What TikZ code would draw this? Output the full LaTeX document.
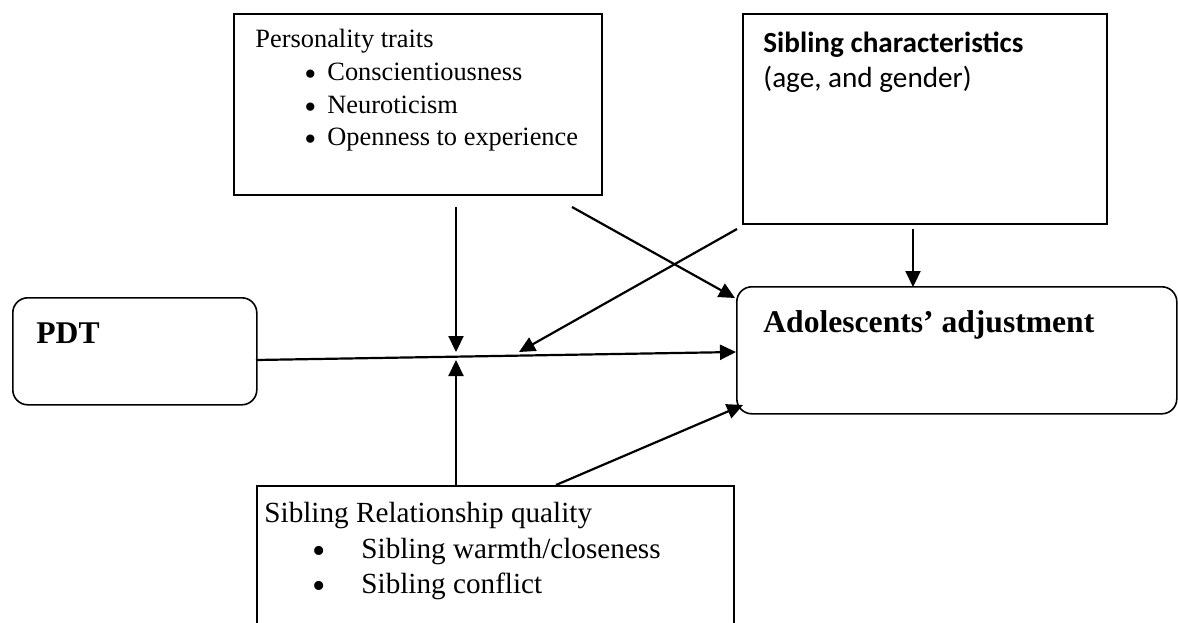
\documentclass[tikz,border=0pt]{standalone}
\usepackage{fontspec}
\usepackage{graphicx}
\setmainfont{Liberation Serif}
\newfontfamily\calibrifont{Carlito}
\usetikzlibrary{arrows.meta}
\newcommand{\bigbul}{\raisebox{-0.2em}{\scalebox{1.3}{•}}}
\begin{document}
\begin{tikzpicture}[x=0.5pt,y=-0.5pt,
  box/.style={draw, line width=0.8pt, inner sep=0pt, anchor=north west},
  rbox/.style={box, rounded corners=7.5pt},
  lbl/.style={anchor=base west, inner sep=0pt},
  ptxt/.style={lbl, font=\fontsize{13.2}{16}\selectfont},
  stxt/.style={lbl, font=\fontsize{14.6}{17}\selectfont},
  btxt/.style={lbl, font=\fontsize{15.8}{19}\selectfont\bfseries},
  ctxt/.style={lbl, font=\fontsize{14.6}{17}\selectfont\calibrifont},
  conn/.style={line width=1.1pt, -{Triangle[length=8pt,width=7.5pt]}}]
\clip (0,0) rectangle (1178,622);
\fill[white] (0,0) rectangle (1178,622);

% boxes
\node[box, minimum width=184pt, minimum height=90.5pt] (pers) at (233,13) {};
\node[box, minimum width=182pt, minimum height=105pt] (schar) at (742,13) {};
\node[rbox, minimum width=122pt, minimum height=53.5pt] (pdt) at (12,297) {};
\node[rbox, minimum width=220pt, minimum height=63.5pt] (adj) at (736,286) {};
\node[box, minimum width=238.5pt, minimum height=90pt] (srq) at (256,485) {};

% texts
\node[ptxt] (p0) at (255,47) {Personality traits};
\node[ptxt] (p1) at (304,80) {\makebox[11.5pt][l]{\bigbul}Conscientiousness};
\node[ptxt] (p2) at (304,113) {\makebox[11.5pt][l]{\bigbul}Neuroticism};
\node[ptxt] (p3) at (304,145) {\makebox[11.5pt][l]{\bigbul}Openness to experience};

\node[ctxt] (c0) at (763,52) {\bfseries Sibling characteristics};
\node[ctxt] (c1) at (763,87) {(age, and gender)};

\node[btxt] (t0) at (36,343) {PDT};
\node[btxt] (t1) at (763,332) {Adolescents’ adjustment};

\node[stxt] (s0) at (264,522) {Sibling Relationship quality};
\node[stxt] (s1) at (312,558) {\makebox[24.5pt][l]{\bigbul}Sibling warmth/closeness};
\node[stxt] (s2) at (312,593) {\makebox[24.5pt][l]{\bigbul}Sibling conflict};

% connector end points
\coordinate (mainS) at (256,360);
\coordinate (mainE) at (736,352);
\coordinate (pdS) at (456,207);
\coordinate (pdE) at (456,352);
\coordinate (pxS) at (572,207);
\coordinate (pxE) at (735,298);
\coordinate (cxS) at (737,229);
\coordinate (cxE) at (519,352);
\coordinate (cvS) at (913,229);
\coordinate (cvE) at (913,287);
\coordinate (suS) at (456,485);
\coordinate (suE) at (456,360);
\coordinate (sxS) at (556,485);
\coordinate (sxE) at (743,405);

% connectors
\draw[conn] (mainS) -- (mainE);
\draw[conn] (pdS) -- (pdE);
\draw[conn] (pxS) -- (pxE);
\draw[conn] (cxS) -- (cxE);
\draw[conn] (cvS) -- (cvE);
\draw[conn] (suS) -- (suE);
\draw[conn] (sxS) -- (sxE);
\end{tikzpicture}
\end{document}
